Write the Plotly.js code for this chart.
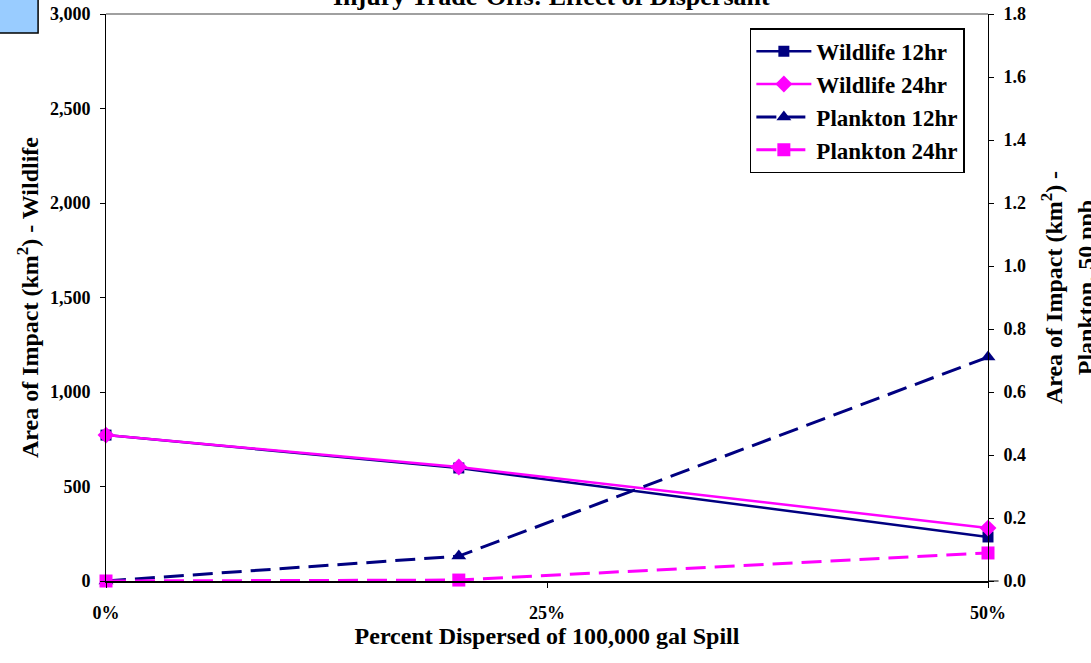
<!DOCTYPE html>
<html>
<head>
<meta charset="utf-8">
<script src="https://cdn.plot.ly/plotly-3.0.1.min.js"></script>
<style>html,body{margin:0;padding:0;background:#fff;}#chart{width:1091px;height:663px;}</style>
</head>
<body>
<div id="chart"></div>
<script>
const percentDispersed = [0, 20, 50];
const wildlife12 = [772, 598, 233];
const wildlife24 = [772, 603, 280];
const plankton12 = [0.0, 0.079, 0.711];
const plankton24 = [0.0, 0.003, 0.089];
const xTickVals = [0, 25, 50];
const xTickText = ['0%', '25%', '50%'];

const NAVY = '#000080', MAG = '#FF00FF';
const FONT = 'Liberation Serif, Times New Roman, serif';

const traces = [
  {x: percentDispersed, y: wildlife12, name: 'Wildlife 12hr', mode: 'lines+markers', yaxis: 'y',
   line: {color: NAVY, width: 2.5}, marker: {symbol: 'square', size: 11, color: NAVY}, cliponaxis: false},
  {x: percentDispersed, y: wildlife24, name: 'Wildlife 24hr', mode: 'lines+markers', yaxis: 'y',
   line: {color: MAG, width: 2.5}, marker: {symbol: 'diamond', size: 13, color: MAG}, cliponaxis: false},
  {x: percentDispersed, y: plankton12, name: 'Plankton 12hr', mode: 'lines+markers', yaxis: 'y2',
   line: {color: NAVY, width: 3, dash: '20px,9px'}, marker: {symbol: 'triangle-up', size: 13, color: NAVY}, cliponaxis: false},
  {x: percentDispersed, y: plankton24, name: 'Plankton 24hr', mode: 'lines+markers', yaxis: 'y2',
   line: {color: MAG, width: 3, dash: '20px,9px'}, marker: {symbol: 'square', size: 13, color: MAG}, cliponaxis: false}
];

const layout = {
  width: 1091, height: 663,
  margin: {l: 106, r: 103, t: 14, b: 82},
  paper_bgcolor: '#fff', plot_bgcolor: '#fff',
  font: {family: FONT, color: '#000', size: 18, weight: 700},
  showlegend: true,
  legend: {x: 0.730, y: 0.975, xanchor: 'left', yanchor: 'top', bgcolor: '#fff', bordercolor: '#000', borderwidth: 1.5,
           font: {family: FONT, size: 23, weight: 700}, tracegroupgap: 0, itemwidth: 55},
  xaxis: {range: [0, 50], tickvals: xTickVals, ticktext: xTickText, showgrid: false, zeroline: false,
          showline: true, linecolor: '#000', linewidth: 2, mirror: false, ticks: 'outside', ticklen: 5, tickcolor: '#000',
          ticklabelstandoff: 9, tickfont: {family: FONT, size: 18, weight: 700},
          title: {text: 'Percent Dispersed of 100,000 gal Spill', font: {family: FONT, size: 24, weight: 700}, standoff: 3}},
  yaxis: {range: [0, 3000], dtick: 500, tickformat: ',', showgrid: false, zeroline: false,
          showline: true, linecolor: '#000', linewidth: 1, ticks: 'outside', ticklen: 5, tickcolor: '#000',
          tickfont: {family: FONT, size: 18, weight: 700}, ticklabelstandoff: 6,
          title: {text: 'Area of Impact (km<sup>2</sup>) - Wildlife', font: {family: FONT, size: 24, weight: 700}, standoff: 4}},
  yaxis2: {range: [0, 1.8], dtick: 0.2, tickformat: '.1f', overlaying: 'y', side: 'right', showgrid: false, zeroline: false,
           showline: true, linecolor: '#000', linewidth: 1, ticks: 'outside', ticklen: 5, tickcolor: '#000',
           tickfont: {family: FONT, size: 18, weight: 700}, ticklabelstandoff: 6},
  annotations: [
    {text: 'Injury Trade-Offs: Effect of Dispersant', xref: 'paper', yref: 'paper', x: 0.5051, y: 1.030,
     xanchor: 'center', yanchor: 'middle', showarrow: false, font: {family: FONT, size: 26, weight: 700, color: '#000'}},
    {text: 'Area of Impact (km<sup>2</sup>) -<br>Plankton, 50 ppb', xref: 'paper', yref: 'paper', x: 1.091, y: 0.517,
     xanchor: 'center', yanchor: 'middle', textangle: -90, showarrow: false, align: 'center',
     font: {family: FONT, size: 24, weight: 700, color: '#000'}}
  ],
  shapes: [
    {type: 'line', xref: 'paper', yref: 'paper', x0: 0, x1: 1, y0: 1, y1: 1, line: {color: '#808080', width: 1.5}},
    {type: 'line', xref: 'paper', yref: 'paper', x0: 1, x1: 1.012, y0: 0, y1: 0, line: {color: '#000', width: 1}},
    {type: 'rect', xref: 'paper', yref: 'paper', x0: -0.125, x1: -0.077, y0: 0.9665, y1: 1.03,
     fillcolor: '#99CCFF', line: {color: '#000', width: 1.5}}
  ]
};

Plotly.newPlot('chart', traces, layout, {displayModeBar: false, staticPlot: true});
</script>
</body>
</html>
